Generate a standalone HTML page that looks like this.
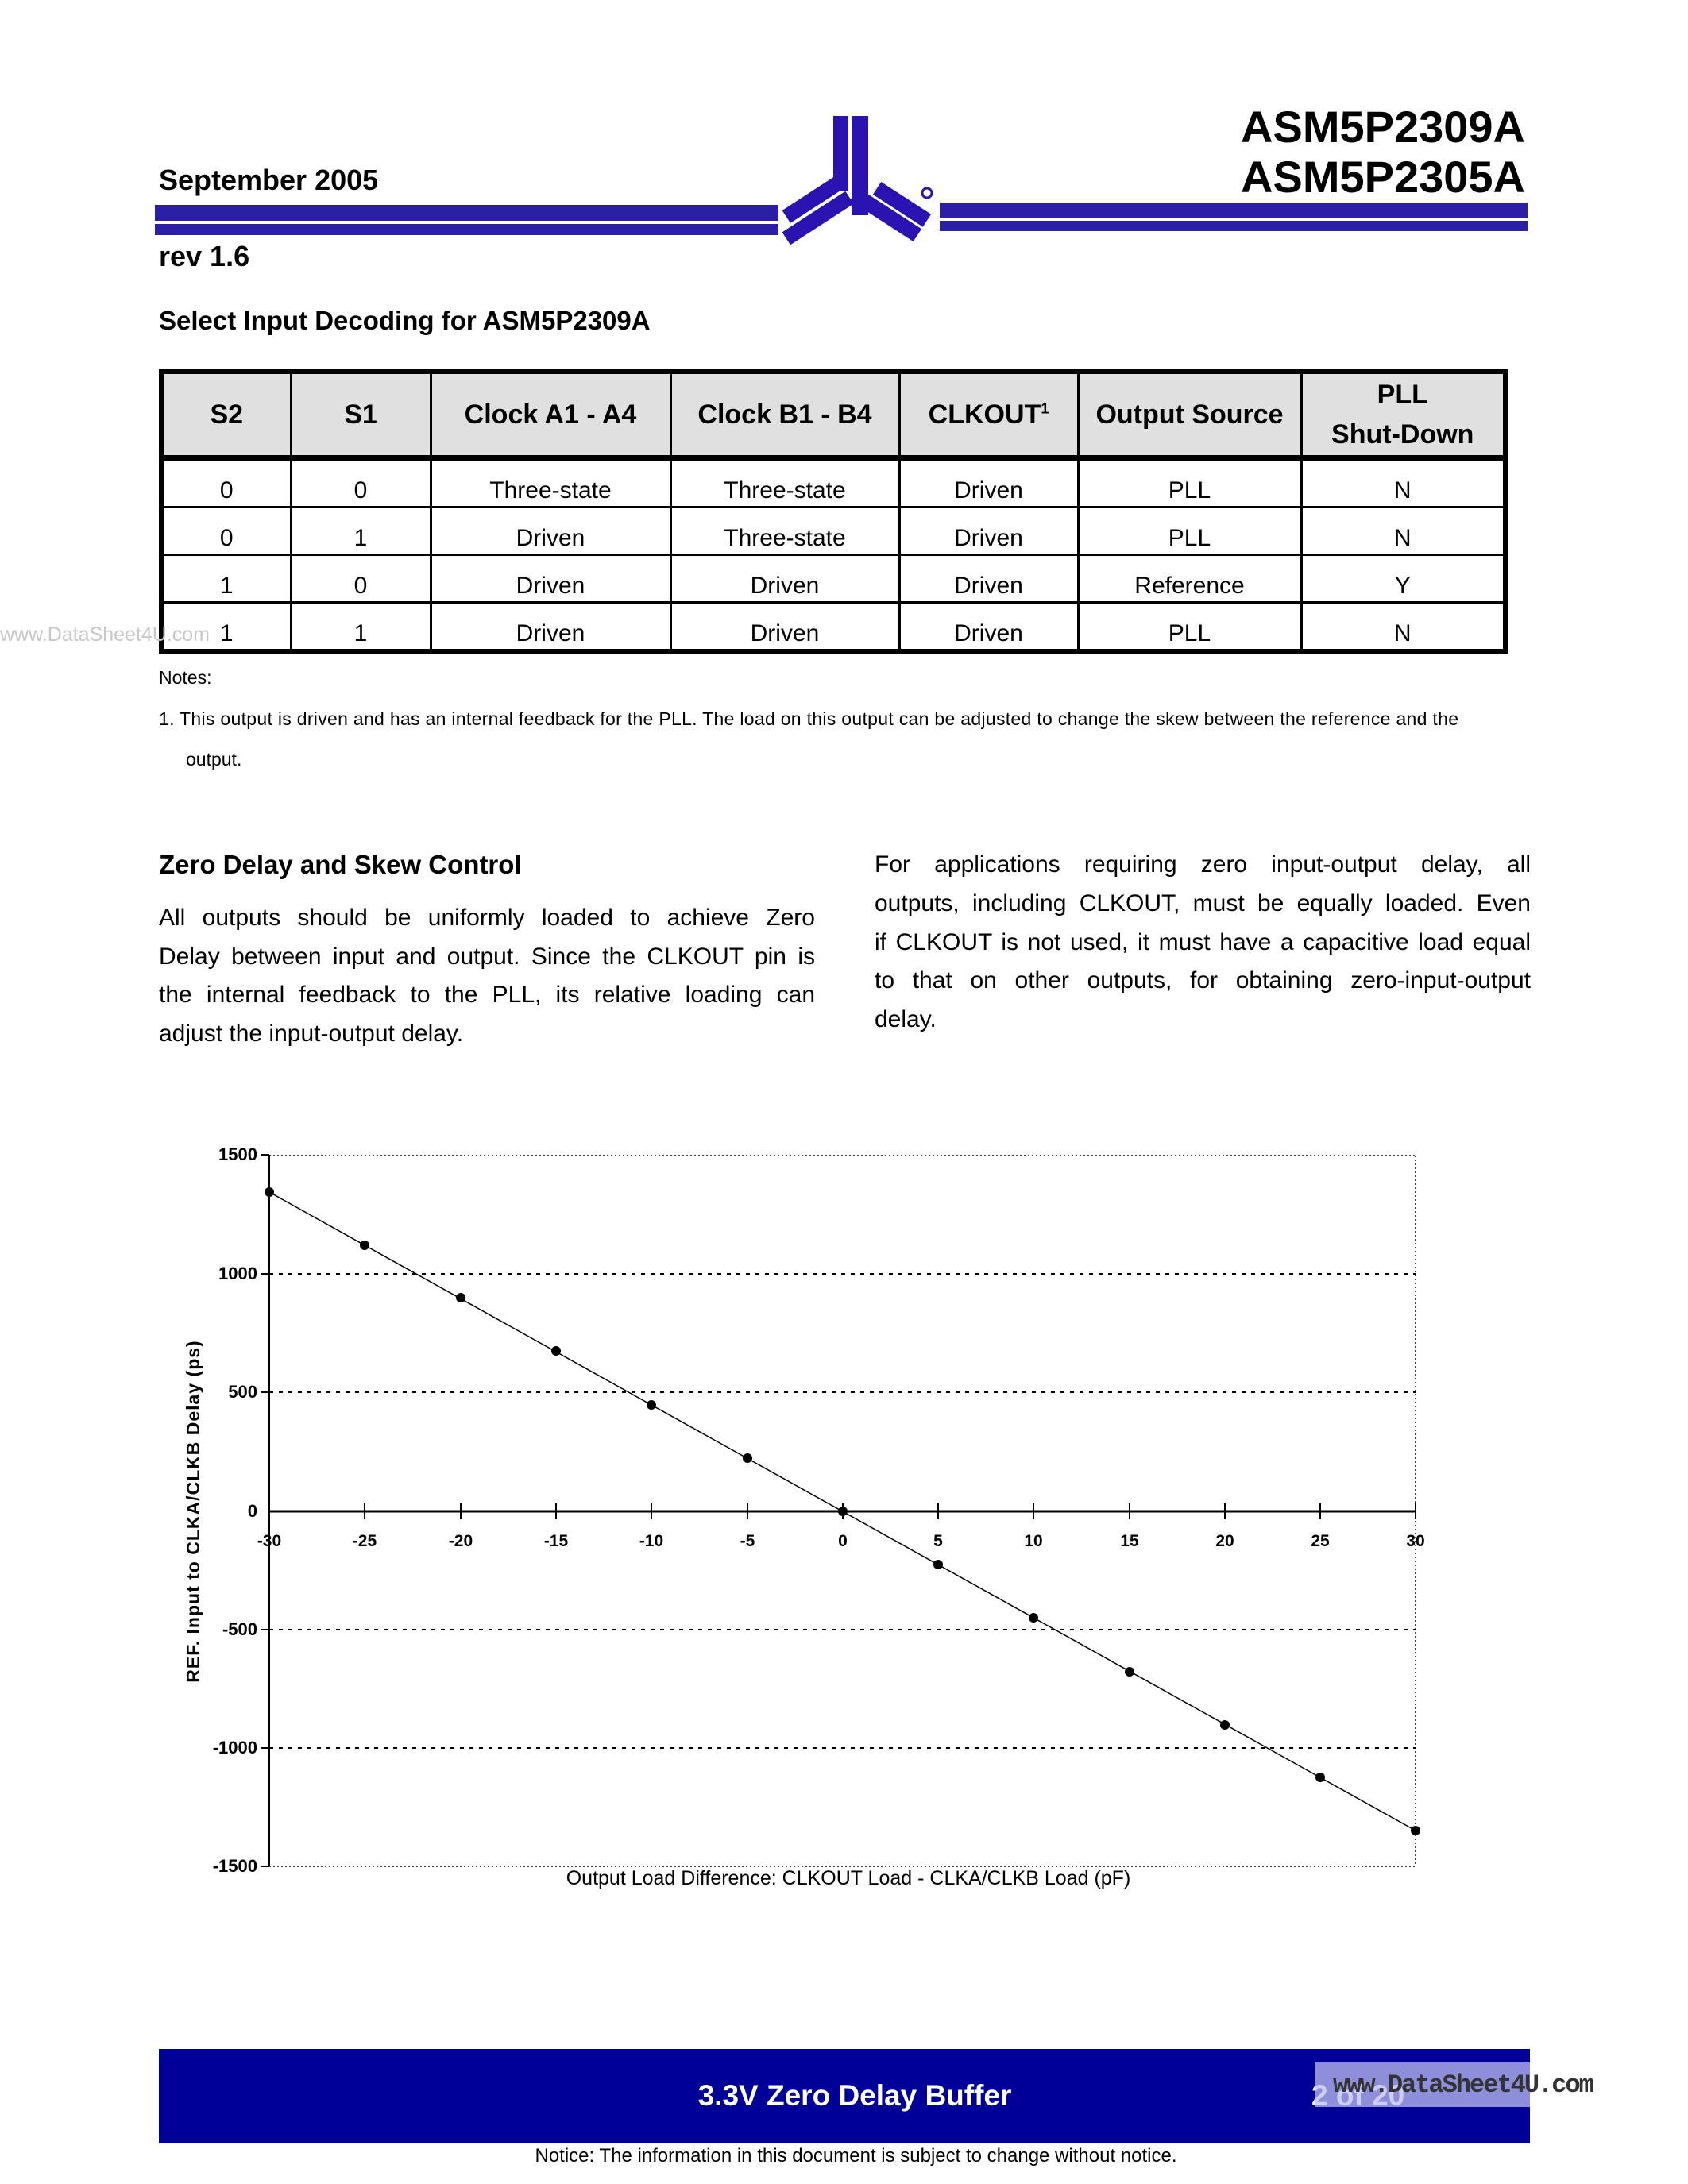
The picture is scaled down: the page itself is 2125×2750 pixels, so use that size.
<!DOCTYPE html>
<html><head><meta charset="utf-8"><style>
body{margin:0;background:#fff;}
#p{position:relative;width:2125px;height:2750px;overflow:hidden;font-family:"Liberation Sans",Arial,sans-serif;color:#000;}
.a{position:absolute;white-space:nowrap;}
.b{font-weight:bold;}
table{position:absolute;left:200px;top:465px;width:1698px;border-collapse:collapse;border:6px solid #000;table-layout:fixed;}
td{border:3px solid #000;text-align:center;font-size:30px;height:55px;vertical-align:bottom;padding:0 0 2px 0;}
th{border:3px solid #000;background:#e0e0e0;font-size:34px;height:100px;}
tr.h{border-bottom:7px solid #000;}
.l{position:absolute;font-size:30px;width:826px;text-align:justify;text-align-last:justify;white-space:nowrap;}
</style></head><body><div id="p">
<div style="position:absolute;left:195px;top:258px;width:785px;height:20px;background:#2b1fa8"></div>
<div style="position:absolute;left:195px;top:282px;width:785px;height:14px;background:#2b1fa8"></div>
<div style="position:absolute;left:1183px;top:255px;width:740px;height:20px;background:#2b1fa8"></div>
<div style="position:absolute;left:1183px;top:278px;width:740px;height:13px;background:#2b1fa8"></div>
<svg style="position:absolute;left:0;top:0" width="2125" height="400">
<g fill="#2a13b0">
<rect x="1049" y="146" width="19" height="95"/><rect x="1072" y="146" width="21" height="125"/>
<g transform="translate(1066,236) rotate(147)"><rect x="4" y="-22" width="95" height="19"/><rect x="4" y="1" width="80" height="19"/></g>
<g transform="translate(1076,236) rotate(33)"><rect x="4" y="-2" width="95" height="19"/><rect x="24" y="-24" width="75" height="19"/></g>
</g>
<circle cx="1167" cy="243" r="6" fill="none" stroke="#2a13b0" stroke-width="3"/>
</svg>
<div class="a b" style="left:500px;width:1420px;text-align:right;top:127px;font-size:56px">ASM5P2309A</div>
<div class="a b" style="left:500px;width:1420px;text-align:right;top:190px;font-size:56px">ASM5P2305A</div>
<div class="a b" style="left:200px;top:206px;font-size:36px">September 2005</div>
<div class="a b" style="left:200px;top:302px;font-size:36px">rev 1.6</div>
<div class="a b" style="left:200px;top:385px;font-size:33px">Select Input Decoding for ASM5P2309A</div>
<table>
<colgroup><col style="width:163px"><col style="width:176px"><col style="width:302px"><col style="width:288px"><col style="width:225px"><col style="width:281px"><col></colgroup>
<tr class="h"><th>S2</th><th>S1</th><th>Clock A1 - A4</th><th>Clock B1 - B4</th><th>CLKOUT<sup style="font-size:18px">1</sup></th><th>Output Source</th><th style="line-height:50px">PLL<br>Shut-Down</th></tr>
<tr><td>0</td><td>0</td><td>Three-state</td><td>Three-state</td><td>Driven</td><td>PLL</td><td>N</td></tr>
<tr><td>0</td><td>1</td><td>Driven</td><td>Three-state</td><td>Driven</td><td>PLL</td><td>N</td></tr>
<tr><td>1</td><td>0</td><td>Driven</td><td>Driven</td><td>Driven</td><td>Reference</td><td>Y</td></tr>
<tr><td>1</td><td>1</td><td>Driven</td><td>Driven</td><td>Driven</td><td>PLL</td><td>N</td></tr>
</table>
<div class="a" style="left:0;top:785px;font-size:25px;color:#c8c8c8">www.DataSheet4U.com</div>
<div class="a" style="left:200px;top:840px;font-size:23px">Notes:</div>
<div class="a" style="left:200px;top:892px;font-size:23px;letter-spacing:0.3px">1. This output is driven and has an internal feedback for the PLL. The load on this output can be adjusted to change the skew between the reference and the</div>
<div class="a" style="left:234px;top:943px;font-size:23px">output.</div>
<div class="a b" style="left:200px;top:1070px;font-size:33px">Zero Delay and Skew Control</div>
<div class="l" style="left:200px;top:1139px">All outputs should be uniformly loaded to achieve Zero</div>
<div class="l" style="left:200px;top:1188px">Delay between input and output. Since the CLKOUT pin is</div>
<div class="l" style="left:200px;top:1236px">the internal feedback to the PLL, its relative loading can</div>
<div class="l" style="left:200px;top:1285px;text-align-last:left">adjust the input-output delay.</div>
<div class="l" style="left:1101px;top:1072px">For applications requiring zero input-output delay, all</div>
<div class="l" style="left:1101px;top:1121px">outputs, including CLKOUT, must be equally loaded. Even</div>
<div class="l" style="left:1101px;top:1170px">if CLKOUT is not used, it must have a capacitive load equal</div>
<div class="l" style="left:1101px;top:1218px">to that on other outputs, for obtaining zero-input-output</div>
<div class="l" style="left:1101px;top:1267px;text-align-last:left">delay.</div>
<svg style="position:absolute;left:0;top:0" width="2125" height="2750" font-family="Liberation Sans, Arial, sans-serif">
<g stroke="#000" stroke-width="2" stroke-dasharray="5,7">
<line x1="339" y1="1604" x2="1782" y2="1604"/><line x1="339" y1="1753" x2="1782" y2="1753"/>
<line x1="339" y1="2052" x2="1782" y2="2052"/><line x1="339" y1="2201" x2="1782" y2="2201"/>
</g>
<g stroke="#000" stroke-width="1.5" stroke-dasharray="2,3">
<line x1="339" y1="1455" x2="1782" y2="1455"/><line x1="339" y1="2350" x2="1782" y2="2350"/><line x1="1782" y1="1455" x2="1782" y2="2350"/>
</g>
<line x1="339" y1="1454" x2="339" y2="2350" stroke="#000" stroke-width="2"/>
<line x1="339" y1="1903" x2="1782" y2="1903" stroke="#000" stroke-width="3"/>
<g stroke="#000" stroke-width="2">
<line x1="339" y1="1903" x2="339" y2="1913"/><line x1="459" y1="1893" x2="459" y2="1913"/><line x1="580" y1="1893" x2="580" y2="1913"/><line x1="700" y1="1893" x2="700" y2="1913"/><line x1="820" y1="1893" x2="820" y2="1913"/><line x1="941" y1="1893" x2="941" y2="1913"/><line x1="1061" y1="1893" x2="1061" y2="1913"/><line x1="1181" y1="1893" x2="1181" y2="1913"/><line x1="1301" y1="1893" x2="1301" y2="1913"/><line x1="1422" y1="1893" x2="1422" y2="1913"/><line x1="1542" y1="1893" x2="1542" y2="1913"/><line x1="1662" y1="1893" x2="1662" y2="1913"/><line x1="1782" y1="1893" x2="1782" y2="1913"/>
<line x1="329" y1="1454" x2="339" y2="1454"/><line x1="329" y1="1604" x2="339" y2="1604"/><line x1="329" y1="1753" x2="339" y2="1753"/><line x1="329" y1="2052" x2="339" y2="2052"/><line x1="329" y1="2201" x2="339" y2="2201"/><line x1="329" y1="2350" x2="339" y2="2350"/>
</g>
<g font-size="21" font-weight="bold" text-anchor="middle">
<text x="339" y="1947">-30</text><text x="459" y="1947">-25</text><text x="580" y="1947">-20</text><text x="700" y="1947">-15</text><text x="820" y="1947">-10</text><text x="941" y="1947">-5</text><text x="1061" y="1947">0</text><text x="1181" y="1947">5</text><text x="1301" y="1947">10</text><text x="1422" y="1947">15</text><text x="1542" y="1947">20</text><text x="1662" y="1947">25</text><text x="1782" y="1947">30</text>
</g>
<g font-size="22" text-anchor="end" font-weight="bold">
<text x="324" y="1461">1500</text><text x="324" y="1611">1000</text><text x="324" y="1760">500</text><text x="324" y="1910">0</text><text x="324" y="2059">-500</text><text x="324" y="2208">-1000</text><text x="324" y="2357">-1500</text>
</g>
<text x="1068" y="2373" font-size="25" text-anchor="middle">Output Load Difference: CLKOUT Load - CLKA/CLKB Load  (pF)</text>
<text transform="translate(251,1903) rotate(-90)" font-size="23" font-weight="bold" text-anchor="middle" letter-spacing="1">REF. Input to CLKA/CLKB Delay   (ps)</text>
<polyline fill="none" stroke="#000" stroke-width="1.5" points="339,1501 1782,2305"/>
<g fill="#000">
<circle cx="339" cy="1501" r="6"/><circle cx="459" cy="1568" r="6"/><circle cx="580" cy="1634" r="6"/><circle cx="700" cy="1701" r="6"/><circle cx="820" cy="1769" r="6"/><circle cx="941" cy="1836" r="6"/><circle cx="1061" cy="1903" r="6"/><circle cx="1181" cy="1970" r="6"/><circle cx="1301" cy="2037" r="6"/><circle cx="1422" cy="2105" r="6"/><circle cx="1542" cy="2172" r="6"/><circle cx="1662" cy="2238" r="6"/><circle cx="1782" cy="2305" r="6"/>
</g>
</svg>
<div style="position:absolute;left:200px;top:2580px;width:1726px;height:119px;background:#000099"></div>
<div class="a b" style="left:200px;width:1752px;text-align:center;top:2618px;font-size:37px;color:#fff">3.3V Zero Delay Buffer</div>
<div class="a b" style="left:1651px;top:2618px;font-size:37px;color:#fff">2 of 20</div>
<div style="position:absolute;left:1655px;top:2597px;width:271px;height:56px;background:rgba(190,190,240,0.75)"></div>
<div class="a" style="left:1678px;top:2607px;font-size:32px;color:#333;font-family:'Liberation Mono',monospace;font-weight:bold;letter-spacing:-2px">www.DataSheet4U.com</div>
<div class="a" style="left:0;width:2155px;text-align:center;top:2701px;font-size:24px">Notice:  The information in this document is subject to change without notice.</div>
</div></body></html>
